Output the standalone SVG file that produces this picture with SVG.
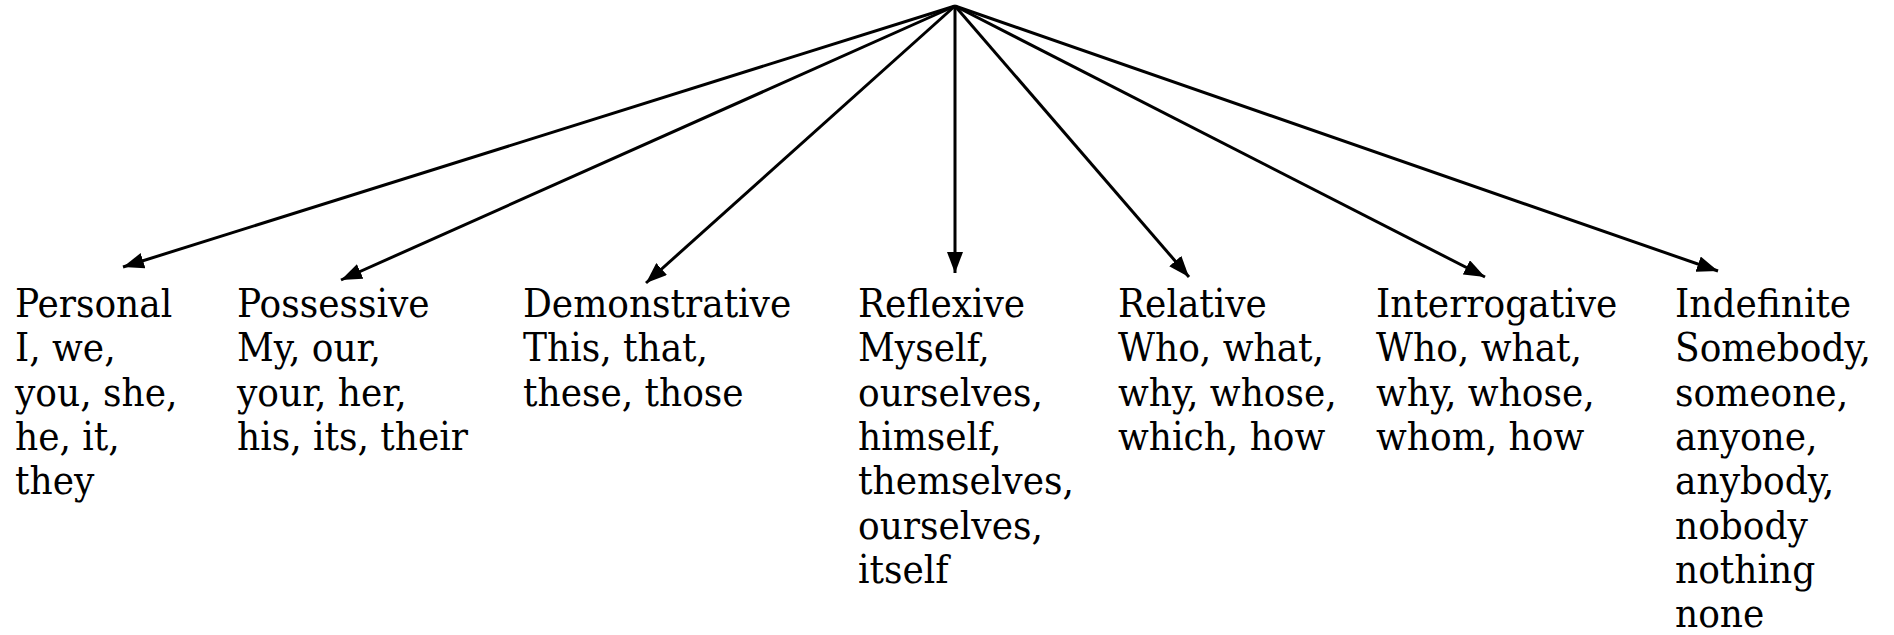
<svg xmlns="http://www.w3.org/2000/svg" width="1894" height="635" viewBox="0 0 1894 635">
<defs>
<marker id="ah" markerUnits="userSpaceOnUse" markerWidth="22" markerHeight="16" refX="21" refY="8" orient="auto">
<path d="M0,0 L21,8 L0,16 Z" fill="#000"/>
</marker>
<style>
.lbl{font-family:'DejaVu Serif Condensed','DejaVu Serif','Liberation Serif',serif;font-stretch:condensed;font-size:40px;fill:#000}
.c{stroke:#000;stroke-width:3;fill:none;marker-end:url(#ah)}
</style>
</defs>
<rect width="1894" height="635" fill="#fff"/>
<g id="connectors">
<line class="c" x1="955" y1="6" x2="123" y2="267"/>
<line class="c" x1="955" y1="6" x2="341" y2="280"/>
<line class="c" x1="955" y1="6" x2="646" y2="283"/>
<line class="c" x1="955" y1="6" x2="955" y2="273"/>
<line class="c" x1="955" y1="6" x2="1189" y2="277"/>
<line class="c" x1="955" y1="6" x2="1485" y2="277"/>
<line class="c" x1="955" y1="6" x2="1718" y2="271"/>
</g>
<g id="personal"><text class="lbl" x="15" y="317"><tspan x="15" y="317">Personal</tspan><tspan x="15" dy="44.3">I, we,</tspan><tspan x="15" dy="44.3">you, she,</tspan><tspan x="15" dy="44.3">he, it,</tspan><tspan x="15" dy="44.3">they</tspan></text></g>
<g id="possessive"><text class="lbl" x="237" y="317"><tspan x="237" y="317">Possessive</tspan><tspan x="237" dy="44.3">My, our,</tspan><tspan x="237" dy="44.3">your, her,</tspan><tspan x="237" dy="44.3">his, its, their</tspan></text></g>
<g id="demonstrative"><text class="lbl" x="523" y="317"><tspan x="523" y="317">Demonstrative</tspan><tspan x="523" dy="44.3">This, that,</tspan><tspan x="523" dy="44.3">these, those</tspan></text></g>
<g id="reflexive"><text class="lbl" x="858" y="317"><tspan x="858" y="317">Reflexive</tspan><tspan x="858" dy="44.3">Myself,</tspan><tspan x="858" dy="44.3">ourselves,</tspan><tspan x="858" dy="44.3">himself,</tspan><tspan x="858" dy="44.3">themselves,</tspan><tspan x="858" dy="44.3">ourselves,</tspan><tspan x="858" dy="44.3">itself</tspan></text></g>
<g id="relative"><text class="lbl" x="1118" y="317"><tspan x="1118" y="317">Relative</tspan><tspan x="1118" dy="44.3">Who, what,</tspan><tspan x="1118" dy="44.3">why, whose,</tspan><tspan x="1118" dy="44.3">which, how</tspan></text></g>
<g id="interrogative"><text class="lbl" x="1376" y="317"><tspan x="1376" y="317">Interrogative</tspan><tspan x="1376" dy="44.3">Who, what,</tspan><tspan x="1376" dy="44.3">why, whose,</tspan><tspan x="1376" dy="44.3">whom, how</tspan></text></g>
<g id="indefinite"><text class="lbl" x="1675" y="317"><tspan x="1675" y="317">Indefinite</tspan><tspan x="1675" dy="44.3">Somebody,</tspan><tspan x="1675" dy="44.3">someone,</tspan><tspan x="1675" dy="44.3">anyone,</tspan><tspan x="1675" dy="44.3">anybody,</tspan><tspan x="1675" dy="44.3">nobody</tspan><tspan x="1675" dy="44.3">nothing</tspan><tspan x="1675" dy="44.3">none</tspan></text></g>
</svg>
